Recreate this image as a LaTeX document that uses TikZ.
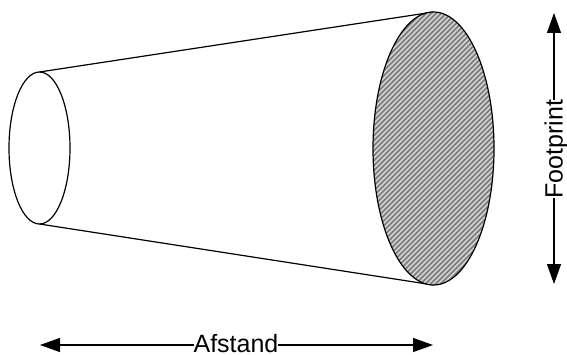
\documentclass[tikz,border=0pt]{standalone}
\usepackage{fontspec}
\setmainfont{Liberation Sans}
\usetikzlibrary{arrows.meta}
\tikzset{
  outline/.style={line width=1.2pt,black},
  dimhalf/.style={line width=1.2pt,black,-{Triangle[length=20pt,width=14pt]}},
  lab/.style={font=\fontsize{25}{27}\selectfont,inner sep=0pt,outer sep=0pt},
  hatchline/.style={line width=1.3pt,black!12}
}
\begin{document}
\begin{tikzpicture}[x=1pt,y=-1pt]
\useasboundingbox (0,0) rectangle (567,355);
\coordinate (st) at (39.5,72);
\coordinate (sb) at (39.5,224);
\coordinate (lt) at (433.5,12);
\coordinate (lb) at (433.5,285);
\draw[outline] (st) -- (lt);
\draw[outline] (sb) -- (lb);
\draw[outline] (39.5,148) ellipse [x radius=30.5,y radius=76];
\begin{scope}
\clip (433.5,148.5) ellipse [x radius=60.5,y radius=136.5];
\fill[black!50] (370,10) rectangle (497,287);
\foreach \k in {0,...,90}{
  \draw[hatchline] (80+\k*5,287) -- ++(290,-290);
}
\end{scope}
\draw[outline] (433.5,148.5) ellipse [x radius=60.5,y radius=136.5];
\node[lab,anchor=base] (af) at (236,352) {Afstand};
\coordinate (al) at (40,345);
\coordinate (ar) at (433,345);
\draw[dimhalf] (af.west |- al) -- (al);
\draw[dimhalf] (af.east |- ar) -- (ar);
\node[lab,rotate=90,anchor=base] (fp) at (562.5,149) {Footprint};
\coordinate (ft) at (554,13);
\coordinate (fb) at (554,284);
\draw[dimhalf] (fp.east -| ft) -- (ft);
\draw[dimhalf] (fp.west -| fb) -- (fb);
\end{tikzpicture}
\end{document}
